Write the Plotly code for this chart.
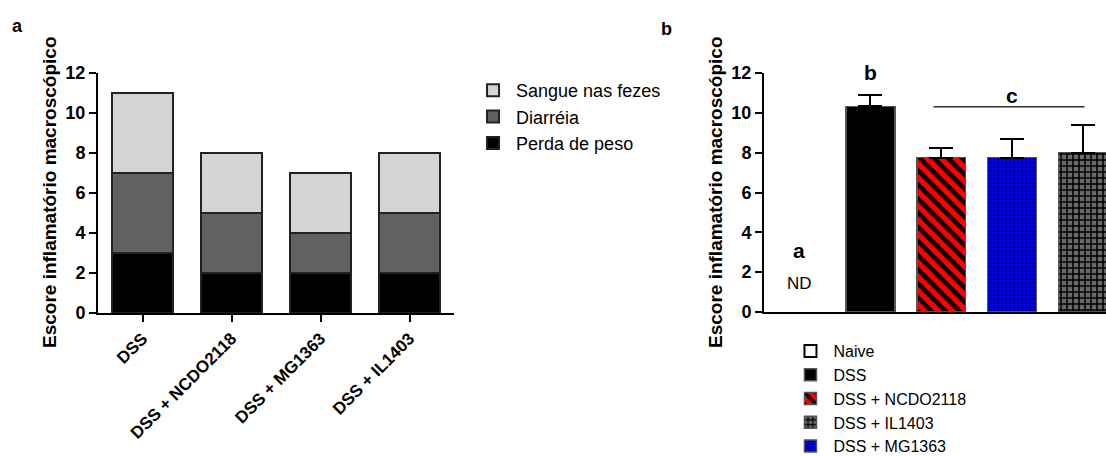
import plotly.graph_objects as go

# ---------------- data ----------------
categories_a = ["DSS", "DSS + NCDO2118", "DSS + MG1363", "DSS + IL1403"]
perda_de_peso = [3, 2, 2, 2]
diarreia = [4, 3, 2, 3]
sangue_nas_fezes = [4, 3, 3, 3]

groups_b = ["Naive", "DSS", "DSS + NCDO2118", "DSS + MG1363", "DSS + IL1403"]
means_b = [None, 10.33, 7.75, 7.75, 8.0]
sem_b = [None, 0.57, 0.48, 0.95, 1.4]
legend_rank_b = [1, 2, 3, 5, 4]

ticks_y = [0, 2, 4, 6, 8, 10, 12]

FONT = "Liberation Sans, Arial, sans-serif"

fig = go.Figure()

# ---------------- panel a: stacked bars ----------------
stack_series = [
    ("Perda de peso", perda_de_peso, "#000000"),
    ("Diarréia", diarreia, "#616161"),
    ("Sangue nas fezes", sangue_nas_fezes, "#d4d4d4"),
]
for name, vals, col in stack_series:
    fig.add_trace(go.Bar(
        x=categories_a, y=vals, name=name, width=0.68,
        marker=dict(color=col, line=dict(color="#222222", width=2)),
        xaxis="x", yaxis="y", legend="legend",
    ))

# ---------------- panel b: mean + SEM ----------------
styles_b = {
    "Naive": dict(color="#ffffff"),
    "DSS": dict(color="#000000"),
    "DSS + NCDO2118": dict(color="#ff0000",
                           pattern=dict(shape="\\", bgcolor="#ff0000", fgcolor="#000000",
                                        size=10, solidity=0.45, fillmode="replace")),
    "DSS + MG1363": dict(color="#0000ee",
                         pattern=dict(shape=".", bgcolor="#0000ee", fgcolor="#000060",
                                      size=4, solidity=0.25, fillmode="replace")),
    "DSS + IL1403": dict(color="#5a5a5a",
                         pattern=dict(shape="+", bgcolor="#6a6a6a", fgcolor="#000000",
                                      size=6, solidity=0.45, fillmode="replace")),
}
for g, m, s, rk in zip(groups_b, means_b, sem_b, legend_rank_b):
    mk = dict(styles_b[g])
    mk["line"] = dict(color="#000000" if g == "Naive" else "#555555", width=2 if g == "Naive" else 1.5)
    err = None
    if s is not None:
        err = dict(type="data", symmetric=False, array=[s], arrayminus=[0],
                   color="#000000", thickness=2, width=12)
    fig.add_trace(go.Bar(
        x=[g], y=[m], name=g, width=0.69, marker=mk, error_y=err,
        xaxis="x2", yaxis="y2", legend="legend2", legendrank=rk,
    ))

axis_common = dict(
    showgrid=False, zeroline=False, showline=True, linecolor="#000000", linewidth=2,
    ticks="outside", ticklen=7, tickwidth=2, tickcolor="#000000",
)
TICKFONT = dict(size=18, family=FONT, weight="bold")

fig.update_layout(
    width=1106, height=456,
    margin=dict(l=0, r=0, t=0, b=0, autoexpand=False),
    paper_bgcolor="white", plot_bgcolor="white",
    barmode="stack", bargap=0.3,
    font=dict(family=FONT, color="#000000"),
    showlegend=True,
    xaxis=dict(domain=[98/1106, 454/1106], range=[-0.5, 3.5], anchor="y",
               tickangle=-45, tickfont=dict(size=17, family=FONT, weight="bold"),
               automargin=False, **axis_common),
    yaxis=dict(domain=[(456-313)/456, (456-73)/456], range=[0, 12], anchor="x",
               tickvals=ticks_y, tickfont=TICKFONT, automargin=False, **axis_common),
    xaxis2=dict(domain=[764/1106, 1.0], range=[-0.5, 4 + 23/71], anchor="y2",
                showticklabels=False, showgrid=False, zeroline=False, showline=True,
                linecolor="#000000", linewidth=2, ticks="", automargin=False),
    yaxis2=dict(domain=[(456-312)/456, (456-73)/456], range=[0, 12], anchor="x2",
                tickvals=ticks_y, tickfont=TICKFONT, automargin=False, **axis_common),
    legend=dict(x=0.425, y=1 - 72/456, xanchor="left", yanchor="top",
                traceorder="reversed", font=dict(size=18, family=FONT), itemwidth=36,
                bgcolor="rgba(0,0,0,0)", tracegroupgap=0),
    legend2=dict(x=0.712, y=1 - 334/456, xanchor="left", yanchor="top",
                 traceorder="normal", font=dict(size=16, family=FONT), itemwidth=36,
                 bgcolor="rgba(0,0,0,0)", tracegroupgap=0),
)

# axis titles
for xp in [49/1106, 715/1106]:
    fig.add_annotation(text="<b>Escore inflamatório macroscópico</b>", xref="paper", yref="paper",
                       x=xp, y=1 - 192/456, textangle=-90, showarrow=False,
                       font=dict(size=19, family=FONT), xanchor="center", yanchor="middle")

# panel labels
fig.add_annotation(text="<b>a</b>", xref="paper", yref="paper", x=17/1106, y=1 - 26/456,
                   xanchor="center", yanchor="middle",
                   showarrow=False, font=dict(size=18, family=FONT))
fig.add_annotation(text="<b>b</b>", xref="paper", yref="paper", x=666/1106, y=1 - 29/456,
                   xanchor="center", yanchor="middle",
                   showarrow=False, font=dict(size=18, family=FONT))

# significance letters
fig.add_annotation(text="<b>a</b>", xref="x2", yref="y2", x="Naive", y=3.1,
                   showarrow=False, font=dict(size=21, family=FONT))
fig.add_annotation(text="ND", xref="x2", yref="y2", x="Naive", y=1.45,
                   showarrow=False, font=dict(size=17, family=FONT))
fig.add_annotation(text="<b>b</b>", xref="x2", yref="paper", x="DSS", y=1 - 72/456,
                   xanchor="center", yanchor="middle",
                   showarrow=False, font=dict(size=21, family=FONT))
fig.add_annotation(text="<b>c</b>", xref="x2", yref="y2", x=3.0, y=10.85,
                   showarrow=False, font=dict(size=21, family=FONT))
fig.add_shape(type="line", xref="x2", yref="y2", x0=1.89, x1=4.02, y0=10.31, y1=10.31,
              line=dict(color="#333333", width=1.5))

fig.write_html("out.html", config={"displayModeBar": False},
               post_script="document.body.style.margin='0';document.body.style.overflow='hidden';")
